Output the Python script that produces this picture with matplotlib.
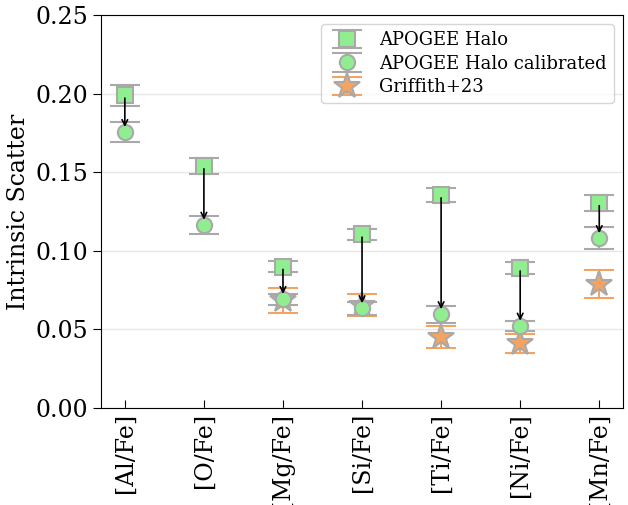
import numpy as np
import matplotlib
matplotlib.use("Agg")
import matplotlib.pyplot as plt

plt.rcParams['font.family'] = 'DejaVu Serif'

elements = ['[Al/Fe]', '[O/Fe]', '[Mg/Fe]', '[Si/Fe]', '[Ti/Fe]', '[Ni/Fe]', '[Mn/Fe]']

# APOGEE halo (raw)
halo = [0.199, 0.154, 0.090, 0.1105, 0.1355, 0.089, 0.1305]
halo_err = [0.0065, 0.005, 0.0035, 0.0037, 0.0047, 0.0037, 0.0053]

# APOGEE halo calibrated
cal = [0.1755, 0.1165, 0.0693, 0.0634, 0.0596, 0.0523, 0.108]
cal_err = [0.0065, 0.0055, 0.0035, 0.0042, 0.0055, 0.003, 0.007]

# Griffith+23 (no O, no Al)
grif_x = [2, 3, 4, 5, 6]
grif = [0.0687, 0.0655, 0.0454, 0.0411, 0.0789]
grif_err = [0.008, 0.0072, 0.007, 0.006, 0.009]

x = np.arange(len(elements))

fig, ax = plt.subplots(figsize=(6.28, 5.05), dpi=100)
fig.subplots_adjust(left=0.161, right=0.992, top=0.970, bottom=0.192)

ax.errorbar(x, halo, yerr=halo_err, fmt='s', color='lightgreen', ms=11,
            mec='darkgray', mew=1.5, ecolor='darkgray', elinewidth=1.5,
            capsize=10.5, capthick=1.5, label='APOGEE Halo', zorder=4)
ax.errorbar(x, cal, yerr=cal_err, fmt='o', color='lightgreen', ms=11,
            mec='darkgray', mew=1.5, ecolor='darkgray', elinewidth=1.5,
            capsize=10.5, capthick=1.5, label='APOGEE Halo calibrated', zorder=4)
ax.errorbar(grif_x, grif, yerr=grif_err, fmt='*', color='sandybrown', ms=19,
            mec='darkgray', mew=1.5, ecolor='sandybrown', elinewidth=1.5,
            capsize=10.5, capthick=1.5, label='Griffith+23', zorder=3)

for xi, h, c in zip(x, halo, cal):
    ax.annotate('', xy=(xi, c + 0.0015), xytext=(xi, h),
                arrowprops=dict(arrowstyle='->', color='black', lw=1.2),
                zorder=5)

ax.set_xlim(-0.3, 6.3)
ax.set_ylim(0, 0.25)
ax.set_xticks(x)
ax.set_xticklabels(elements, rotation=90, fontsize=17)
ax.set_yticks([0, 0.05, 0.10, 0.15, 0.20, 0.25])
ax.set_yticklabels(['0.00', '0.05', '0.10', '0.15', '0.20', '0.25'])
ax.tick_params(axis='y', labelsize=17, direction='out', length=6)
ax.tick_params(axis='x', direction='in', length=6)
ax.set_ylabel('Intrinsic Scatter', fontsize=17)
ax.yaxis.grid(True, color='#e8e8e8', lw=1)
ax.set_axisbelow(True)

ax.legend(loc='upper right', fontsize=13, handletextpad=0.8, borderpad=0.4,
          labelspacing=0.3)

plt.savefig('out.png', dpi=100)
